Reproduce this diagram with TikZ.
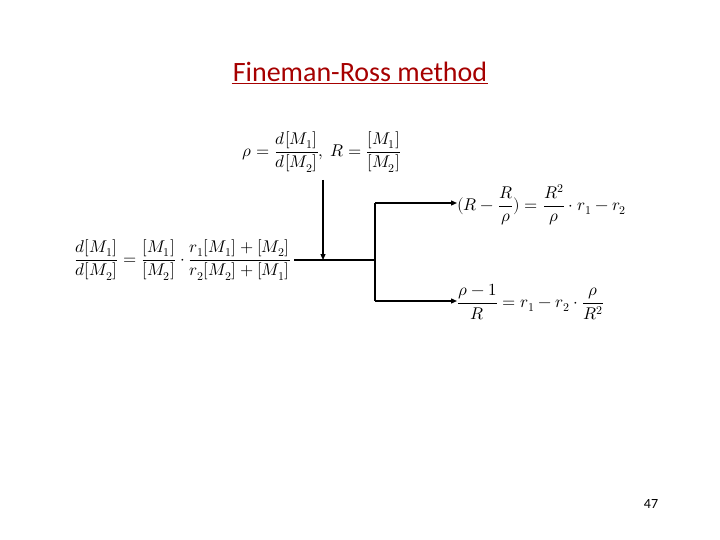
\documentclass[tikz,border=0pt]{standalone}
\usepackage{fontspec}
\setmainfont{Carlito}
\usepackage{unicode-math}
\setmathfont{Latin Modern Math}
\usetikzlibrary{arrows.meta}
\begin{document}
\begin{tikzpicture}[x=1pt,y=-1pt,
  eq/.style={inner sep=0pt,font=\fontsize{17}{20}\selectfont},
  ln/.style={line width=1.2pt},
  ar/.style={ln,-{Triangle[length=6pt,width=5pt]}}]
\useasboundingbox (0,0) rectangle (720,540);
\fill[white] (0,0) rectangle (720,540);
\node[inner sep=1pt,text=red!65!black,font=\fontsize{28}{32}\selectfont] (t) at (360,72) {Fineman-Ross method};
\draw[red!65!black,line width=0.9pt] (t.south west) -- (t.south east);
\node[eq] (top) at (322,152) {$\rho=\dfrac{d[M_1]}{d[M_2]},\ R=\dfrac{[M_1]}{[M_2]}$};
\node[eq,anchor=east] (left) at (291,260) {$\dfrac{d[M_1]}{d[M_2]}=\dfrac{[M_1]}{[M_2]}\cdot\dfrac{r_1[M_1]+[M_2]}{r_2[M_2]+[M_1]}$};
\node[eq,anchor=west] (r1) at (457,205) {$(R-\dfrac{R}{\rho})=\dfrac{R^2}{\rho}\cdot r_1-r_2$};
\node[eq,anchor=west] (r2) at (457,302) {$\dfrac{\rho-1}{R}=r_1-r_2\cdot\dfrac{\rho}{R^2}$};
\coordinate (j) at (375,260);
\coordinate (h) at (323,260);
\coordinate (a1) at (457,203);
\coordinate (a2) at (457,301);
\draw[ln] (left.east)++(3,0) coordinate (ls) -- (j);
\draw[ar] (323,180) -- (h);
\draw[ln] (375,203) -- (375,301);
\draw[ar] (375,203) -- (a1);
\draw[ar] (375,301) -- (a2);
\node[font=\fontsize{14}{16}\selectfont] (pg) at (651,504) {47};
\end{tikzpicture}
\end{document}
